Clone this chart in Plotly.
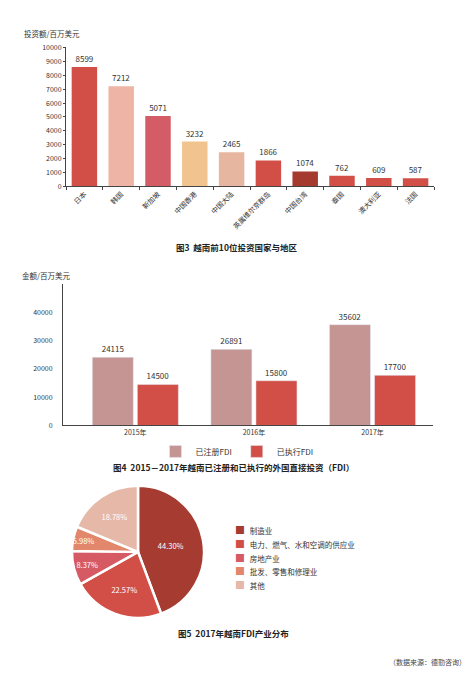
import plotly.graph_objects as go

# page body has an 8px default margin, so the figure is sized to fit the window
OFF = 8
W, H = 472 - OFF, 680 - OFF

# Chart 1 data
countries = ["日本", "韩国", "新加坡", "中国香港", "中国大陆", "英属维尔京群岛", "中国台湾", "泰国", "澳大利亚", "法国"]
invest = [8599, 7212, 5071, 3232, 2465, 1866, 1074, 762, 609, 587]
bar_colors = ["#d24f47", "#eeb4a5", "#d45c67", "#f1c38e", "#e6b6a0", "#d24f47", "#a53a2f", "#d24f47", "#d24f47", "#d24f47"]

# Chart 2 data
years = ["2015年", "2016年", "2017年"]
registered = [24115, 26891, 35602]
executed = [14500, 15800, 17700]

# Chart 3 data
sectors = ["制造业", "电力、燃气、水和空调的供应业", "房地产业", "批发、零售和修理业", "其他"]
shares = [44.30, 22.57, 8.37, 5.98, 18.78]
pie_colors = ["#a63c31", "#d24f47", "#d65a64", "#e2876b", "#e6b8a8"]

FONT = "Noto Sans CJK SC, Liberation Sans, sans-serif"

def px(x):
    return (x - OFF) / W

def py(y):
    return 1 - (y - OFF) / H

fig = go.Figure()

fig.add_trace(go.Bar(
    x=countries, y=invest, marker=dict(color=bar_colors, line=dict(width=0)),
    text=[str(v) for v in invest], textposition="outside",
    textfont=dict(size=8, color="#333"), cliponaxis=False,
    xaxis="x", yaxis="y", showlegend=False,
))

fig.add_trace(go.Bar(
    x=years, y=registered, name="已注册FDI", marker=dict(color="#c49593"),
    text=[str(v) for v in registered], textposition="outside",
    textfont=dict(size=8, color="#333"), cliponaxis=False,
    xaxis="x2", yaxis="y2", legend="legend",
))
fig.add_trace(go.Bar(
    x=years, y=executed, name="已执行FDI", marker=dict(color="#d24f47"),
    text=[str(v) for v in executed], textposition="outside",
    textfont=dict(size=8, color="#333"), cliponaxis=False,
    xaxis="x2", yaxis="y2", legend="legend",
))

fig.add_trace(go.Pie(
    labels=sectors, values=shares, sort=False, direction="clockwise", rotation=0,
    marker=dict(colors=pie_colors, line=dict(color="white", width=2.5)),
    texttemplate="%{value:.2f}%", textposition="inside", insidetextorientation="horizontal",
    textfont=dict(size=7.5, color="white"),
    domain=dict(x=[px(71), px(205)], y=[py(621), py(487)]),
    showlegend=False, hoverinfo="label+value",
))

annotations = [
    dict(text="投资额/百万美元", x=px(22), y=py(28), xref="paper", yref="paper",
         xanchor="left", yanchor="middle", showarrow=False, font=dict(size=7.5)),
    dict(text="<b>图3  越南前10位投资国家与地区</b>", x=px(236), y=py(245), xref="paper", yref="paper",
         xanchor="center", yanchor="middle", showarrow=False, font=dict(size=8.5, color="#222")),
    dict(text="金额/百万美元", x=px(20), y=py(273), xref="paper", yref="paper",
         xanchor="left", yanchor="middle", showarrow=False, font=dict(size=7.5)),
    dict(text="<b>图4  2015－2017年越南已注册和已执行的外国直接投资（FDI）</b>", x=px(233), y=py(468),
         xref="paper", yref="paper", xanchor="center", yanchor="middle", showarrow=False,
         font=dict(size=8.5, color="#222")),
    dict(text="<b>图5  2017年越南FDI产业分布</b>", x=px(233), y=py(636), xref="paper", yref="paper",
         xanchor="center", yanchor="middle", showarrow=False, font=dict(size=8.5, color="#222")),
    dict(text="（数据来源：德勤咨询）", x=px(468), y=py(666), xref="paper", yref="paper",
         xanchor="right", yanchor="middle", showarrow=False, font=dict(size=7, color="#444")),
]

# pie legend built from the sector arrays (one multi-line text block)
legend_lines = [
    f"<span style='color:{col};font-size:10px'>■</span>  <span style='font-size:7.5px'>{name}</span>"
    for name, col in zip(sectors, pie_colors)
]
annotations.append(dict(
    text="<br>".join(legend_lines), align="left",
    x=px(233), y=py(559), xref="paper", yref="paper",
    xanchor="left", yanchor="middle", showarrow=False, font=dict(size=10.6, color="#333"),
))

fig.update_layout(
    width=W, height=H, margin=dict(l=0, r=0, t=0, b=0),
    paper_bgcolor="white", plot_bgcolor="white",
    font=dict(family=FONT, size=8, color="#333"),
    barmode="group", bargap=0.24, bargroupgap=0.09,
    uniformtext=dict(minsize=7.5, mode="show"),
    xaxis=dict(domain=[px(66), px(434)], anchor="y", showline=True, linecolor="#444", linewidth=1,
               ticks="outside", tickson="boundaries", ticklen=3, tickcolor="#444",
               tickangle=-45, tickfont=dict(size=7), showgrid=False),
    yaxis=dict(domain=[py(183), py(42)], anchor="x", range=[0, 10000], dtick=1000, tickformat="d",
               showline=True, linecolor="#444", linewidth=1, ticks="outside", ticklen=2,
               tickcolor="#444", tickfont=dict(size=7), showgrid=False, zeroline=False),
    xaxis2=dict(domain=[px(63), px(433)], anchor="y2", range=[-0.61, 2.51], showline=True,
                linecolor="#444", linewidth=1, ticks="", tickfont=dict(size=7), showgrid=False),
    yaxis2=dict(domain=[py(425.7), py(282)], anchor="x2", range=[0, 50000], tickformat="d",
                tickvals=[0, 10000, 20000, 30000, 40000], showline=True, linecolor="#444",
                linewidth=1, ticks="outside", ticklen=8, tickcolor="white",
                tickfont=dict(size=7), showgrid=False, zeroline=False),
    legend=dict(orientation="h", x=px(237), xanchor="center", y=py(452), yanchor="middle",
                font=dict(size=8), itemwidth=30, bgcolor="rgba(0,0,0,0)"),
    annotations=annotations,
)

fig.write_html("out.html")
